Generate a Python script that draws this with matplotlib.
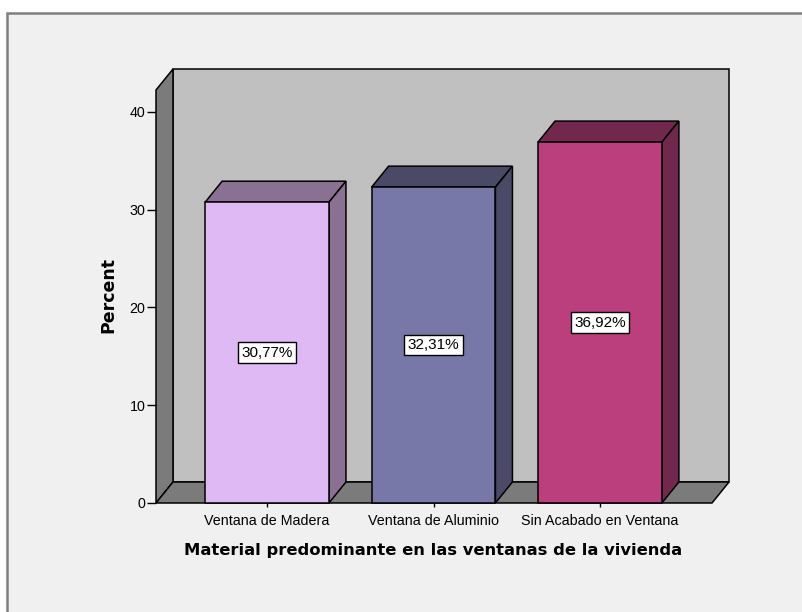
import matplotlib.pyplot as plt
from matplotlib.patches import Polygon, Rectangle

# data
categories = ["Ventana de Madera", "Ventana de Aluminio", "Sin Acabado en Ventana"]
percents = [30.77, 32.31, 36.92]
value_labels = ["30,77%", "32,31%", "36,92%"]
front_colors = ["#dfb9f3", "#7878a8", "#bb3f7d"]
shade_colors = ["#8a7093", "#4a4a66", "#72274d"]
yticks = [0, 10, 20, 30, 40]

W, H = 803, 612
fig = plt.figure(figsize=(W / 100, H / 100), dpi=100)
fig.patch.set_facecolor("white")

# panel background with grey frame
fig.add_artist(Rectangle((7 / W, -0.01), 1.0, 1 - 13 / H + 0.01, transform=fig.transFigure,
                         facecolor="#f0f0f0", edgecolor="#808080", linewidth=1.8, zorder=0))

# front plane of the 3D box, in pixels
left_px, right_px, bottom_px, top_px = 156, 712, 503, 90
ax = fig.add_axes([left_px / W, 1 - bottom_px / H, (right_px - left_px) / W, (bottom_px - top_px) / H])
ax.set_facecolor("none")

x0, x1 = -0.667, 2.673
ymax = 42.25
ax.set_xlim(x0, x1)
ax.set_ylim(0, ymax)

# depth offset of the 3D effect, in data units
ddx = 17 / ((right_px - left_px) / (x1 - x0))
ddy = 21 / ((bottom_px - top_px) / ymax)
half = 0.372

def face(pts, color, z):
    ax.add_patch(Polygon(pts, closed=True, facecolor=color, edgecolor="black",
                         linewidth=1.1, clip_on=False, zorder=z, joinstyle="miter"))

# walls and floor
face([(x0 + ddx, ddy), (x1 + ddx, ddy), (x1 + ddx, ymax + ddy), (x0 + ddx, ymax + ddy)], "#c0c0c0", 1)
face([(x0, 0), (x0 + ddx, ddy), (x0 + ddx, ymax + ddy), (x0, ymax)], "#7b7b7b", 2)
face([(x0, 0), (x1, 0), (x1 + ddx, ddy), (x0 + ddx, ddy)], "#7b7b7b", 2)

# 3D bars
for i, v in enumerate(percents):
    a, b = i - half, i + half
    face([(a, v), (b, v), (b + ddx, v + ddy), (a + ddx, v + ddy)], shade_colors[i], 3)
    face([(b, 0), (b + ddx, ddy), (b + ddx, v + ddy), (b, v)], shade_colors[i], 3)
    face([(a, 0), (b, 0), (b, v), (a, v)], front_colors[i], 4)
    ax.text(i, v / 2, value_labels[i], ha="center", va="center", fontsize=11,
            family="Liberation Sans", zorder=5,
            bbox=dict(boxstyle="square,pad=0.22", facecolor="white", edgecolor="black", linewidth=1))

for s in ax.spines.values():
    s.set_visible(False)

ax.set_yticks(yticks)
ax.set_yticklabels([str(t) for t in yticks], family="Liberation Sans", fontsize=10.3)
ax.set_xticks(range(len(categories)))
ax.set_xticklabels(categories, family="Liberation Sans", fontsize=10.3)
ax.tick_params(axis="y", direction="out", length=6.5, width=1, pad=1)
ax.tick_params(axis="x", direction="out", length=3, width=1, pad=5)

ax.set_ylabel("Percent", fontsize=12.5, fontweight="bold")
ax.yaxis.set_label_coords(-0.07, 0.504)
ax.set_xlabel("Material predominante en las ventanas de la vivienda", fontsize=11.8, fontweight="bold")
ax.xaxis.set_label_coords(0.498, -0.098)

fig.savefig("out.png", dpi=100)
